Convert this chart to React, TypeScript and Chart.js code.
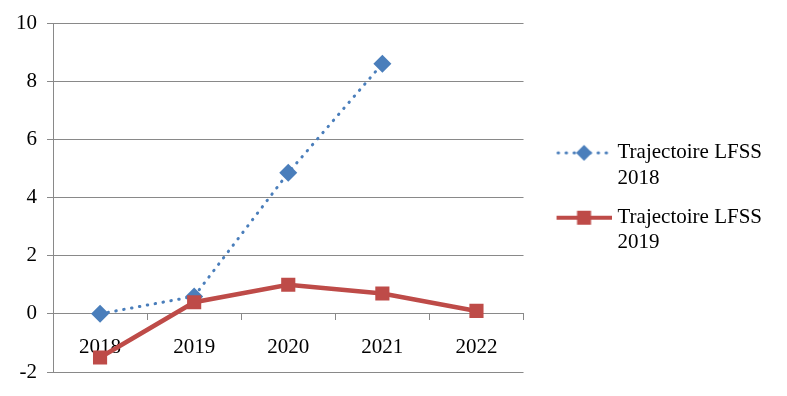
import { useEffect, useRef } from 'react';
import { Chart, registerables } from 'chart.js';

Chart.register(...registerables);

const categories = ['2018', '2019', '2020', '2021', '2022'];
const lfss2018 = [0, 0.6, 4.85, 8.6, null];
const lfss2019 = [-1.5, 0.4, 1.0, 0.7, 0.1];
const seriesLabels = ['Trajectoire LFSS 2018', 'Trajectoire LFSS 2019'];
const yTicks = [-2, 0, 2, 4, 6, 8, 10];

const BLUE = '#4a7ebb';
const RED = '#be4b48';
const GRID = '#898989';
const FONT = 'Liberation Serif';

function makeSample(kind: 'blue' | 'red'): HTMLCanvasElement {
  const c = document.createElement('canvas');
  c.width = 78;
  c.height = 22;
  const ctx = c.getContext('2d')!;
  const y = 11;
  const x0 = 23;
  const x1 = 78;
  const cx = 50.5;
  if (kind === 'blue') {
    ctx.strokeStyle = BLUE;
    ctx.lineWidth = 3;
    ctx.lineCap = 'round';
    ctx.setLineDash([0.5, 7.5]);
    ctx.beginPath();
    ctx.moveTo(x0 + 1.5, y);
    ctx.lineTo(x1 - 1.5, y);
    ctx.stroke();
    ctx.setLineDash([]);
    ctx.fillStyle = BLUE;
    ctx.beginPath();
    ctx.moveTo(cx, y - 8);
    ctx.lineTo(cx + 8, y);
    ctx.lineTo(cx, y + 8);
    ctx.lineTo(cx - 8, y);
    ctx.closePath();
    ctx.fill();
  } else {
    ctx.strokeStyle = RED;
    ctx.lineWidth = 4;
    ctx.beginPath();
    ctx.moveTo(x0, y);
    ctx.lineTo(x1, y);
    ctx.stroke();
    ctx.fillStyle = RED;
    ctx.fillRect(cx - 7, y - 7, 14, 14);
  }
  return c;
}

export default function App() {
  const ref = useRef<HTMLCanvasElement | null>(null);

  useEffect(() => {
    if (!ref.current) return;
    const samples = [makeSample('blue'), makeSample('red')];
    const chart = new Chart(ref.current, {
      type: 'line',
      data: {
        labels: categories,
        datasets: [
          {
            label: seriesLabels[0],
            data: lfss2018,
            borderColor: BLUE,
            backgroundColor: BLUE,
            borderWidth: 3,
            borderDash: [0.5, 7.5],
            borderCapStyle: 'round',
            pointStyle: 'rectRot',
            pointRadius: 9,
            pointBackgroundColor: BLUE,
            pointBorderColor: BLUE,
            pointBorderWidth: 0,
            spanGaps: false,
            order: 2,
          },
          {
            label: seriesLabels[1],
            data: lfss2019,
            borderColor: RED,
            backgroundColor: RED,
            borderWidth: 4.5,
            pointStyle: 'rect',
            pointRadius: 10,
            pointBackgroundColor: RED,
            pointBorderColor: RED,
            pointBorderWidth: 0,
            order: 1,
          },
        ],
      },
      options: {
        responsive: true,
        maintainAspectRatio: false,
        animation: false,
        layout: { padding: { left: 6, top: 23, right: 15, bottom: 24 } },
        scales: {
          x: {
            type: 'category',
            position: { y: 0 } as any,
            offset: true,
            grid: {
              display: true,
              drawOnChartArea: false,
              drawTicks: true,
              tickLength: 6,
              color: GRID,
              offset: true,
            },
            border: { display: true, color: GRID, width: 1 },
            ticks: {
              padding: 15,
              color: '#000',
              font: { family: FONT, size: 21 },
              maxRotation: 0,
              autoSkip: false,
            },
            afterFit: (s: any) => {
              s.height = 0;
            },
          },
          y: {
            min: -2,
            max: 10,
            afterBuildTicks: (s: any) => {
              s.ticks = yTicks.map((v) => ({ value: v }));
            },
            ticks: {
              padding: 10,
              color: '#000',
              font: { family: FONT, size: 21 },
            },
            grid: { color: GRID, tickLength: 6, lineWidth: 1 },
            border: { display: true, color: GRID, width: 1 },
          },
        },
        plugins: {
          tooltip: { enabled: false },
          legend: {
            position: 'right',
            align: 'center',
            maxWidth: 400,
            title: { display: true, text: '', padding: 0, font: { size: 4, lineHeight: 1.25 } },
            labels: {
              usePointStyle: true,
              pointStyleWidth: 69,
              padding: 14.5,
              color: '#000',
              font: { family: FONT, size: 21 },
              sort: (a: any, b: any) => a.datasetIndex - b.datasetIndex,
              generateLabels: (c: any) => {
                const items = (Chart.defaults.plugins.legend.labels as any).generateLabels(c);
                return items.map((it: any) => {
                  const full = String(it.text);
                  const i = full.lastIndexOf(' ');
                  return {
                    ...it,
                    text: [full.slice(0, i), full.slice(i + 1)],
                    pointStyle: samples[it.datasetIndex],
                  };
                });
              },
            },
          },
        },
      } as any,
    });
    return () => chart.destroy();
  }, []);

  return (
    <div style={{ position: 'fixed', left: 0, top: 0, width: 787, height: 396, background: '#fff' }}>
      <canvas ref={ref} />
    </div>
  );
}
